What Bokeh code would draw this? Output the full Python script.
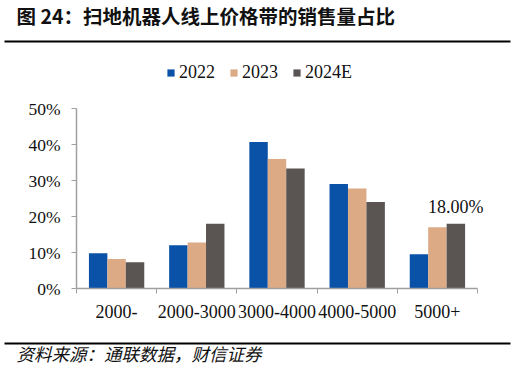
from bokeh.plotting import figure
from bokeh.models import (Range1d, FixedTicker, PrintfTickFormatter, Legend, LegendItem,
                          ColumnDataSource)
from bokeh.core.properties import value
from bokeh.embed import file_html
from bokeh.resources import INLINE

# ---- data ----
categories = ["2000-", "2000-3000", "3000-4000", "4000-5000", "5000+"]
series_names = ["2022", "2023", "2024E"]
v2022 = [9.8, 12.0, 40.7, 29.0, 9.5]
v2023 = [8.2, 12.8, 36.0, 27.8, 17.0]
v2024e = [7.3, 18.0, 33.3, 24.0, 18.0]
y_ticks = [0, 10, 20, 30, 40, 50]
title_text = "图 24：扫地机器人线上价格带的销售量占比"
source_text = "资料来源：通联数据，财信证券"
annot_category = "5000+"

colors = ["#0a52a8", "#dcaa85", "#5a5452"]
series = [v2022, v2023, v2024e]

# ---- layout (pixels) ----
W, H = 515, 373
AX_LEFT, AX_RIGHT = 76, 477      # x-axis extent on the page
AX_TOP, AX_BOTTOM = 108, 288     # 50% and 0% on the page
YMAX = y_ticks[-1]
ncat = len(categories)
px_per_cat = (AX_RIGHT - AX_LEFT) / ncat
px_per_pct = (AX_BOTTOM - AX_TOP) / YMAX

SERIF = "Liberation Serif"
CJK = "Noto Sans CJK SC"

p = figure(width=W, height=H, output_backend="svg", toolbar_location=None,
           x_range=Range1d(-AX_LEFT / px_per_cat, ncat + (W - AX_RIGHT) / px_per_cat),
           y_range=Range1d(-(H - AX_BOTTOM) / px_per_pct, YMAX + AX_TOP / px_per_pct),
           min_border=0, min_border_left=0, min_border_right=0,
           min_border_top=0, min_border_bottom=0)
p.extra_x_ranges = {"px": Range1d(0, W)}
p.extra_y_ranges = {"px": Range1d(H, 0)}
p.outline_line_color = None
p.xgrid.grid_line_color = None
p.ygrid.grid_line_color = None
p.background_fill_color = "white"
p.border_fill_color = "white"

centers = [i + 0.5 for i in range(ncat)]
bw = 0.23
offsets = [-bw, 0.0, bw]
renderers = []
for name, vals, col, off in zip(series_names, series, colors, offsets):
    src = ColumnDataSource(dict(x=[c + off for c in centers], top=vals))
    r = p.vbar(x="x", top="top", width=bw, bottom=0, source=src,
               fill_color=col, line_color=None)
    renderers.append(r)

ai = categories.index(annot_category)
lsrc = ColumnDataSource(dict(x=[centers[ai] + offsets[2]], y=[v2024e[ai]],
                             t=[f"{v2024e[ai]:.2f}%"]))
p.text(x="x", y="y", text="t", source=lsrc, text_align="center",
       text_baseline="bottom", y_offset=-7, text_font=value(SERIF),
       text_font_size="18px", text_color="#111111")

axis_col = "#a0a0a0"
xa = p.xaxis[0]
xa.fixed_location = 0
xa.bounds = (0, ncat)
xa.ticker = FixedTicker(ticks=centers, minor_ticks=list(range(ncat + 1)))
xa.major_label_overrides = {c: lab for c, lab in zip(centers, categories)}
xa.major_tick_line_color = None
xa.minor_tick_line_color = axis_col
xa.minor_tick_in = 0
xa.minor_tick_out = 5
xa.axis_line_color = axis_col
xa.axis_line_width = 1.5
xa.major_label_text_font = SERIF
xa.major_label_text_font_size = "18px"
xa.major_label_text_color = "#111111"
xa.major_label_standoff = 10

ya = p.yaxis[0]
ya.fixed_location = 0
ya.bounds = (0, YMAX)
ya.ticker = FixedTicker(ticks=y_ticks)
ya.formatter = PrintfTickFormatter(format="%d%%")
ya.minor_tick_line_color = None
ya.major_tick_line_color = axis_col
ya.major_tick_in = 0
ya.major_tick_out = 5
ya.axis_line_color = axis_col
ya.axis_line_width = 1.5
ya.major_label_text_font = SERIF
ya.major_label_text_font_size = "17.5px"
ya.major_label_text_color = "#111111"
ya.major_label_standoff = 11

legend = Legend(items=[LegendItem(label=n, renderers=[r]) for n, r in zip(series_names, renderers)],
                orientation="horizontal", location=(166, H - 83),
                glyph_width=9, glyph_height=9, label_standoff=4, spacing=14,
                padding=0, margin=0, border_line_color=None,
                background_fill_alpha=0,
                label_text_font=SERIF, label_text_font_size="18px",
                label_text_color="#111111")
p.add_layout(legend, "center")

# ---- header / footer (page-pixel coordinates) ----
p.text(x=[16], y=[15], text=[title_text], text_font=value(CJK), text_font_style="bold",
       text_font_size="19.5px", text_baseline="middle", text_color="#111111",
       x_range_name="px", y_range_name="px")
p.segment(x0=[4, 4], y0=[41, 343], x1=[510, 510], y1=[41, 343], line_color="black",
          line_width=2, x_range_name="px", y_range_name="px")
p.text(x=[16], y=[353], text=[source_text], text_font=value(CJK), text_font_style="italic",
       text_font_size="17.5px", text_baseline="middle", text_color="#111111",
       x_range_name="px", y_range_name="px")

open("out.html", "w").write(file_html(p, INLINE))
